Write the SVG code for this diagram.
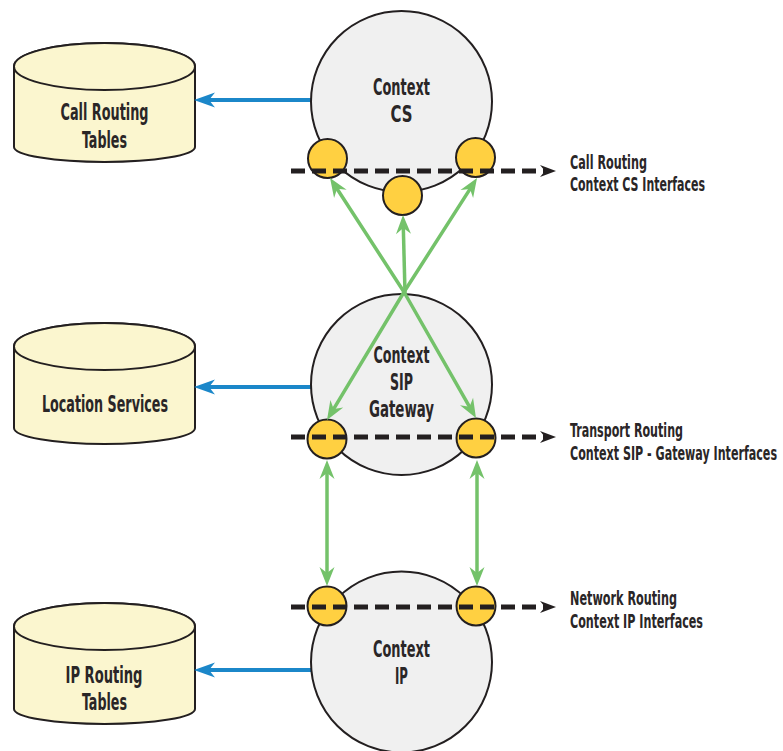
<svg xmlns="http://www.w3.org/2000/svg" width="783" height="751" viewBox="0 0 783 751">
<style>
.cyl{fill:#FBF6CF;stroke:#231F20;stroke-width:2}
.ctx{fill:#F0F0F0;stroke:#231F20;stroke-width:2}
.ifc{fill:#FFD041;stroke:#231F20;stroke-width:2}
.blue{fill:none;stroke:#1B87C9;stroke-width:4}
.green{fill:none;stroke:#74C26A;stroke-width:3.5;stroke-linejoin:round}
.dash{fill:none;stroke:#231F20;stroke-width:5;stroke-dasharray:14 7}
text{font-family:"DejaVu Sans Condensed","DejaVu Sans",sans-serif;font-stretch:condensed;font-weight:bold;fill:#2A2627}
.nt{font-size:23px;text-anchor:middle}
.lt{font-size:20px;text-anchor:start}
</style>
<defs>
<marker id="ga" viewBox="-20 -9 21 18" refX="-6" refY="0" markerWidth="21" markerHeight="18" markerUnits="userSpaceOnUse" orient="auto-start-reverse"><path d="M0,0 L-19,-7.5 L-13,0 L-19,7.5 Z" fill="#74C26A"/></marker>
<marker id="ba" viewBox="-22 -9 23 18" refX="-7" refY="0" markerWidth="23" markerHeight="18" markerUnits="userSpaceOnUse" orient="auto"><path d="M0,0 L-21,-7.5 L-15,0 L-21,7.5 Z" fill="#1B87C9"/></marker>
<marker id="ka" viewBox="-17 -7 18 14" refX="-8" refY="0" markerWidth="18" markerHeight="14" markerUnits="userSpaceOnUse" orient="auto"><path d="M0,0 L-16,-6 L-11,0 L-16,6 Z" fill="#231F20"/></marker>
</defs>

<g id="cyl-call-routing">
<path class="cyl" d="M14,66.5 V147 A90.5,15 0 0 0 195,147 V66.5 A90.5,23.5 0 0 0 14,66.5 Z"/>
<ellipse class="cyl" cx="104.5" cy="66.5" rx="90.5" ry="23.5"/>
<text class="nt" x="104.5" y="120" textLength="88" lengthAdjust="spacingAndGlyphs">Call Routing</text>
<text class="nt" x="104.5" y="148" textLength="45" lengthAdjust="spacingAndGlyphs">Tables</text>
</g>
<g id="cyl-location-services">
<path class="cyl" d="M14,346.5 V428 A90.5,16 0 0 0 195,428 V346.5 A90.5,23.5 0 0 0 14,346.5 Z"/>
<ellipse class="cyl" cx="104.5" cy="346.5" rx="90.5" ry="23.5"/>
<text class="nt" x="105" y="412" textLength="126" lengthAdjust="spacingAndGlyphs">Location Services</text>
</g>
<g id="cyl-ip-routing">
<path class="cyl" d="M14,626.5 V709 A90.5,15 0 0 0 195,709 V626.5 A90.5,23.5 0 0 0 14,626.5 Z"/>
<ellipse class="cyl" cx="104.5" cy="626.5" rx="90.5" ry="23.5"/>
<text class="nt" x="104" y="683" textLength="77" lengthAdjust="spacingAndGlyphs">IP Routing</text>
<text class="nt" x="104.5" y="710" textLength="45" lengthAdjust="spacingAndGlyphs">Tables</text>
</g>

<g id="connectors-blue">
<path class="blue" d="M318,100 H201" marker-end="url(#ba)"/>
<path class="blue" d="M318,387 H201" marker-end="url(#ba)"/>
<path class="blue" d="M318,670 H201" marker-end="url(#ba)"/>
</g>

<g id="context-cs">
<circle class="ctx" cx="401.5" cy="101.5" r="90.5"/>
<text class="nt" x="401.5" y="95" textLength="57" lengthAdjust="spacingAndGlyphs">Context</text>
<text class="nt" x="401.5" y="122" textLength="22" lengthAdjust="spacingAndGlyphs">CS</text>
</g>
<g id="context-sip-gateway">
<circle class="ctx" cx="401.5" cy="384.5" r="90.5"/>
</g>
<g id="context-ip">
<circle class="ctx" cx="401.5" cy="662" r="90.5"/>
<text class="nt" x="401.5" y="657" textLength="57" lengthAdjust="spacingAndGlyphs">Context</text>
<text class="nt" x="401.5" y="684" textLength="13" lengthAdjust="spacingAndGlyphs">IP</text>
</g>

<g id="interfaces-cs">
<circle class="ifc" cx="327.5" cy="158.5" r="19.5"/>
<circle class="ifc" cx="475.5" cy="157.5" r="19.5"/>
<circle class="ifc" cx="402.5" cy="195.5" r="19.5"/>
</g>
<g id="interfaces-sip">
<circle class="ifc" cx="327" cy="439" r="19.5"/>
<circle class="ifc" cx="476" cy="438" r="19.5"/>
</g>
<g id="interfaces-ip">
<circle class="ifc" cx="327" cy="606" r="19.5"/>
<circle class="ifc" cx="476" cy="606" r="19.5"/>
</g>

<g id="connectors">
<path class="dash" d="M291,171 H548" marker-end="url(#ka)"/>
<path class="dash" d="M291,437 H548" marker-end="url(#ka)"/>
<path class="dash" d="M291,607 H548" marker-end="url(#ka)"/>
<path class="green" d="M333.3,183 L404,292 L473,412.8" marker-start="url(#ga)" marker-end="url(#ga)"/>
<path class="green" d="M473.8,183.1 L404,292 L330.1,414.9" marker-start="url(#ga)" marker-end="url(#ga)"/>
<path class="green" d="M405,293 L403.15,221" marker-end="url(#ga)"/>
<path class="green" d="M327,466 V580" marker-start="url(#ga)" marker-end="url(#ga)"/>
<path class="green" d="M477,466 V580" marker-start="url(#ga)" marker-end="url(#ga)"/>
</g>

<g id="sip-label">
<text class="nt" x="401.5" y="363" textLength="56" lengthAdjust="spacingAndGlyphs">Context</text>
<text class="nt" x="401.5" y="390" textLength="23" lengthAdjust="spacingAndGlyphs">SIP</text>
<text class="nt" x="401.5" y="417" textLength="65" lengthAdjust="spacingAndGlyphs">Gateway</text>
</g>

<g id="label-call-routing">
<text class="lt" x="570" y="169" textLength="77" lengthAdjust="spacingAndGlyphs">Call Routing</text>
<text class="lt" x="570" y="191" textLength="135" lengthAdjust="spacingAndGlyphs">Context CS Interfaces</text>
</g>
<g id="label-transport-routing">
<text class="lt" x="570" y="437" textLength="113" lengthAdjust="spacingAndGlyphs">Transport Routing</text>
<text class="lt" x="570" y="460" textLength="207" lengthAdjust="spacingAndGlyphs">Context SIP - Gateway Interfaces</text>
</g>
<g id="label-network-routing">
<text class="lt" x="570" y="605" textLength="107" lengthAdjust="spacingAndGlyphs">Network Routing</text>
<text class="lt" x="570" y="628" textLength="133" lengthAdjust="spacingAndGlyphs">Context IP Interfaces</text>
</g>
</svg>
